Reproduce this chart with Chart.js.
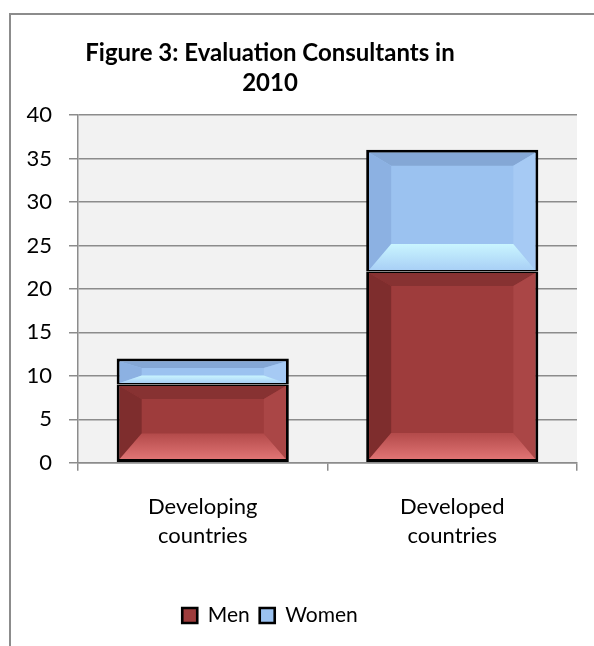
<!DOCTYPE html>
<html>
<head>
<meta charset="utf-8">
<script src="https://cdn.jsdelivr.net/npm/chart.js@4.4.1/dist/chart.umd.min.js"></script>
<style>
  html, body { margin: 0; padding: 0; background: #fff; overflow: hidden; }
  #frame { position: absolute; left: 9px; top: 13px; width: 700px; height: 700px;
           border-left: 2px solid #8c8c8c; border-top: 2px solid #8c8c8c; }
  #wrap { position: absolute; left: -37px; top: 14px; }
</style>
</head>
<body>
<div id="frame"></div>
<div id="wrap"><canvas id="chart" width="617" height="632"></canvas></div>
<script>
const categories = [["Developing", "countries"], ["Developed", "countries"]];
const men = [9, 22];
const women = [3, 14];
const yTicks = [0, 5, 10, 15, 20, 25, 30, 35, 40];

const FONT = "Lato, 'Open Sans', sans-serif";

// light/dark facets for the bevelled bars
const shades = [
  { top: "#873232", left: "#7e2d2d", right: "#aa4646", bottomIn: "#b34a4a", bottomOut: "#e07474" },
  { top: "#84a7d5", left: "#8cb1e2", right: "#a6caf4", bottomIn: "#c9f5ff", bottomOut: "#a9d0f6" }
];

const plotBg = {
  id: "plotBg",
  beforeDraw(chart) {
    const { ctx, chartArea: a } = chart;
    ctx.save();
    ctx.fillStyle = "#f2f2f2";
    ctx.fillRect(a.left, a.top, a.right - a.left, a.bottom - a.top);
    ctx.restore();
  }
};

const bevel = {
  id: "bevel",
  afterDatasetsDraw(chart) {
    const ctx = chart.ctx;
    chart.data.datasets.forEach((ds, i) => {
      const meta = chart.getDatasetMeta(i);
      const s = shades[i];
      const bw = ds.borderWidth;
      meta.data.forEach(bar => {
        const p = bar.getProps(["x", "y", "base", "width"], true);
        const l = p.x - p.width / 2 + bw.left, r = p.x + p.width / 2 - bw.right;
        const t = Math.min(p.y, p.base) + bw.top, b = Math.max(p.y, p.base) - bw.bottom;
        const h = b - t;
        const sw = Math.min(22, (r - l) / 2);
        const th = Math.min(13, h * 0.3);
        const bh = Math.min(26, h * 0.35);
        const poly = (pts, fill) => {
          ctx.beginPath();
          ctx.moveTo(pts[0][0], pts[0][1]);
          pts.slice(1).forEach(q => ctx.lineTo(q[0], q[1]));
          ctx.closePath();
          ctx.fillStyle = fill;
          ctx.fill();
        };
        ctx.save();
        poly([[l, t], [r, t], [r - sw, t + th], [l + sw, t + th]], s.top);
        poly([[l, t], [l + sw, t + th], [l + sw, b - bh], [l, b]], s.left);
        poly([[r, t], [r - sw, t + th], [r - sw, b - bh], [r, b]], s.right);
        const g = ctx.createLinearGradient(0, b - bh, 0, b);
        g.addColorStop(0, s.bottomIn);
        g.addColorStop(1, s.bottomOut);
        poly([[l, b], [r, b], [r - sw, b - bh], [l + sw, b - bh]], g);
        ctx.restore();
      });
    });
  }
};

new Chart(document.getElementById("chart"), {
  type: "bar",
  data: {
    labels: categories,
    datasets: [
      { label: "Men", data: men, backgroundColor: "#9e3c3c", borderColor: "#000",
        borderWidth: { top: 1.5, left: 3, right: 3, bottom: 3 }, borderSkipped: false },
      { label: "Women", data: women, backgroundColor: "#9bc2f0", borderColor: "#000",
        borderWidth: { top: 3, left: 3, right: 3, bottom: 1.5 }, borderSkipped: false }
    ]
  },
  options: {
    responsive: false,
    animation: false,
    layout: { padding: { right: 3, bottom: 10 } },
    datasets: { bar: { categoryPercentage: 1, barPercentage: 0.69 } },
    plugins: {
      title: {
        display: true,
        text: ["Figure 3: Evaluation Consultants in", "2010"],
        color: "#000",
        font: { family: FONT, size: 24, weight: "bold", lineHeight: 1.25 },
        padding: { top: 24, bottom: 17 }
      },
      legend: {
        position: "bottom",
        labels: {
          color: "#000",
          font: { family: FONT, size: 21 },
          boxWidth: 15,
          boxHeight: 15,
          padding: 10
        }
      },
      tooltip: { enabled: false }
    },
    scales: {
      x: {
        stacked: true,
        grid: { offset: true, drawOnChartArea: false, color: "#8c8c8c", lineWidth: 1.5, tickLength: 8 },
        border: { color: "#8c8c8c", width: 1.5 },
        ticks: { color: "#000", font: { family: FONT, size: 22, lineHeight: 1.3 }, padding: 22 },
        afterFit(axis) { axis.height += 23; }
      },
      y: {
        stacked: true,
        min: 0,
        max: yTicks[yTicks.length - 1],
        afterBuildTicks(axis) { axis.ticks = yTicks.map(v => ({ value: v })); },
        grid: { color: "#8c8c8c", lineWidth: 1.5, tickLength: 9 },
        border: { color: "#8c8c8c", width: 1.5 },
        ticks: { color: "#000", font: { family: FONT, size: 22 }, padding: 17 },
        afterFit(axis) { axis.width = 115; }
      }
    }
  },
  plugins: [plotBg, bevel]
});
</script>
</body>
</html>
